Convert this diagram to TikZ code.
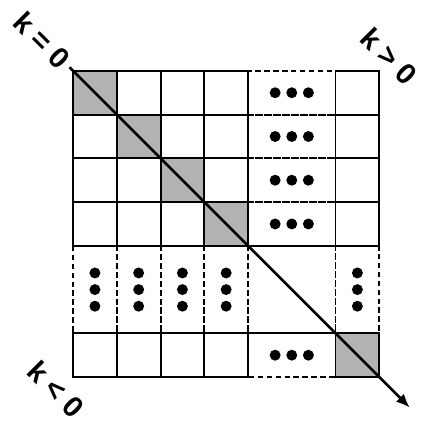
\documentclass[tikz,border=0pt]{standalone}
\usepackage{fontspec}
\setmainfont{Liberation Sans}
\usetikzlibrary{arrows.meta}

\tikzset{
  cellline/.style={line width=0.45mm, black},
  dashline/.style={line width=0.45mm, black, dash pattern=on 3.6pt off 2.2pt},
  dotmark/.style={black},
}

\begin{document}
\begin{tikzpicture}
\useasboundingbox (-1.67,1.62) rectangle (7.94,-8.05);

% diagonal labels
\begin{scope}[every node/.style={font=\fontsize{19}{22}\selectfont\bfseries, inner sep=0pt, rotate=-45}]
\node (keq) at (-0.70,0.70)  {k = 0};
\node (kgt) at (7.22,0.34)   {k > 0};
\node (klt) at (-0.38,-7.27) {k < 0};
\end{scope}

% gray diagonal cells
\foreach \x in {0,1,2,3,6}
  \fill [black!30] (\x,-\x) rectangle (\x+1,-\x-1);

% dashed block (elided rows and columns)
\foreach \y in {0,1,2,3,6}
  \draw [dashline] (4,-\y) rectangle (6,-\y-1);
\foreach \x in {0,1,2,3,6}
  \draw [dashline] (\x,-4) rectangle (\x+1,-6);
\draw [dashline] (4,-4) rectangle (6,-6);

% solid cells
\foreach \x in {0,1,2,3,6}
  \foreach \y in {0,1,2,3,6}
    \draw [cellline] (\x,-\y) rectangle (\x+1,-\y-1);

% dots
\foreach \y in {0,1,2,3,6}
  \foreach \d in {-0.38,0,0.38}
    \fill [dotmark] (5+\d,-\y-0.5) circle (0.125);
\foreach \x in {0,1,2,3,6}
  \foreach \d in {-0.38,0,0.38}
    \fill [dotmark] (\x+0.5,-5+\d) circle (0.125);

% diagonal arrow
\coordinate (diagstart) at (-0.08,0.08);
\coordinate (diagend)   at (7.7,-7.7);
\draw [line width=0.6mm, -{Latex[length=3.2mm,width=2.6mm]}] (diagstart) -- (diagend);

\end{tikzpicture}
\end{document}
